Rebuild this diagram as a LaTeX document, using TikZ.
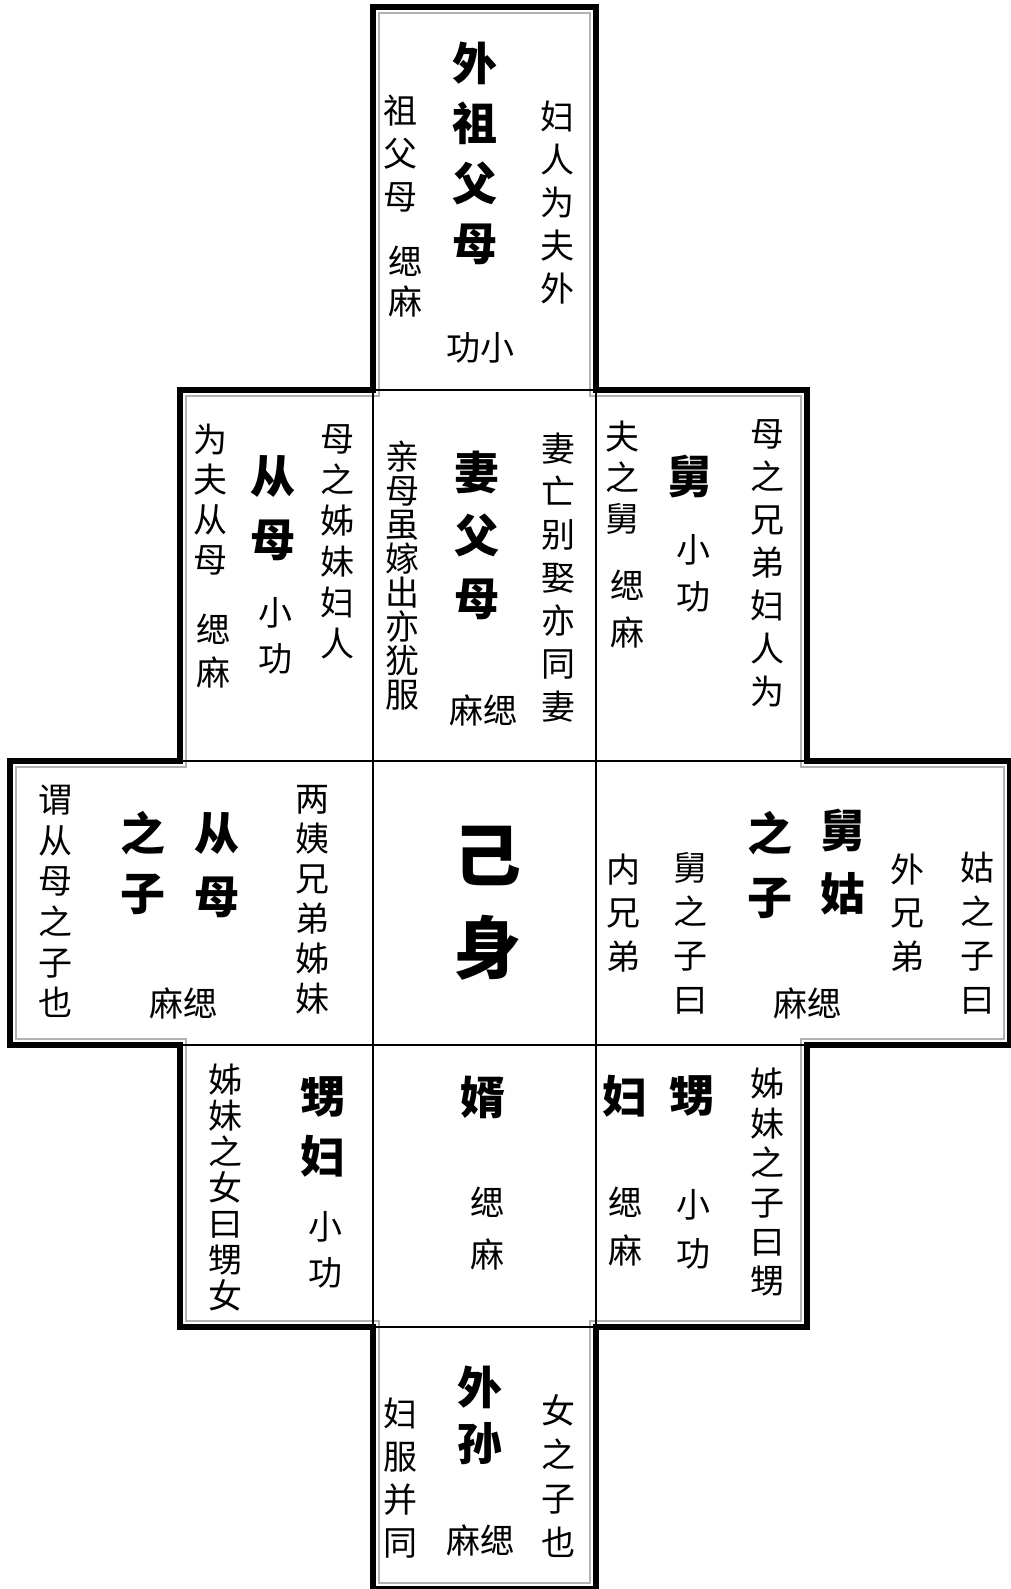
\documentclass[tikz,border=0pt]{standalone}
\usepackage{fontspec}
\setmainfont{Noto Sans CJK SC}
\tikzset{
  outer frame/.style={line width=6pt, line join=miter},
  inner frame/.style={line width=1.5pt, gray!60, line join=miter},
  divider/.style={line width=2.5pt},
  txt/.style={inner sep=0pt, align=center, font=\fontsize{34}{#1}\selectfont},
  txt/.default=43,
  big/.style={inner sep=0pt, align=center, font=\fontsize{45}{#1}\selectfont\bfseries},
  big/.default=60,
}
\begin{document}
\begin{tikzpicture}[x=1pt, y=-1pt]
\fill[white] (0,0) rectangle (1011,1589);
\useasboundingbox (0,0) rectangle (1011,1589);
\draw[outer frame] (373,7) -- (596,7) -- (596,390) -- (807,390) -- (807,761) -- (1010,761) -- (1010,1045) -- (807,1045) -- (807,1327) -- (596,1327) -- (596,1589) -- (373,1589) -- (373,1327) -- (180,1327) -- (180,1045) -- (10,1045) -- (10,761) -- (180,761) -- (180,390) -- (373,390) -- cycle;
\draw[inner frame] (379,13) -- (590,13) -- (590,396) -- (801,396) -- (801,767) -- (1004,767) -- (1004,1039) -- (801,1039) -- (801,1321) -- (590,1321) -- (590,1583) -- (379,1583) -- (379,1321) -- (186,1321) -- (186,1039) -- (16,1039) -- (16,767) -- (186,767) -- (186,396) -- (379,396) -- cycle;
\draw[divider] (373,390) -- (596,390);
\draw[divider] (373,390) -- (373,1327);
\draw[divider] (596,390) -- (596,1327);
\draw[divider] (180,761) -- (807,761);
\draw[divider] (180,1045) -- (807,1045);
\draw[divider] (373,1327) -- (596,1327);

\node[big] (waizufumu) at (475,153) {外\\祖\\父\\母};
\node[txt] (zufumu) at (400,153.5) {祖\\父\\母};
\node[txt=40] (top-sima) at (405,282) {缌\\麻};
\node[txt] (furen) at (557,203) {妇\\人\\为\\夫\\外};
\node[txt] (top-gong) at (480,348) {功小};

\node[txt=41] (muzhi-zimei) at (337,542) {母\\之\\姊\\妹\\妇\\人};
\node[big=63] (congmu) at (273,508) {从\\母};
\node[txt=46] (congmu-xg) at (275,636) {小\\功};
\node[txt=40] (weifu) at (210,500) {为\\夫\\从\\母};
\node[txt] (congmu-sm) at (213,651) {缌\\麻};

\node[txt=34] (qinmu) at (402,576) {亲\\母\\虽\\嫁\\出\\亦\\犹\\服};
\node[big=63] (qifumu) at (477,535) {妻\\父\\母};
\node[txt] (qifumu-ms) at (483,710) {麻缌};
\node[txt] (qiwang) at (558,578) {妻\\亡\\别\\娶\\亦\\同\\妻};

\node[txt=41] (fuzhijiu) at (622,478) {夫\\之\\舅};
\node[txt=47] (jiu-sm) at (627,609) {缌\\麻};
\node[big] (jiu) at (690,477) {舅};
\node[txt=47] (jiu-xg) at (693,573) {小\\功};
\node[txt] (muzhi-xiongdi) at (767,563) {母\\之\\兄\\弟\\妇\\人\\为};

\node[txt=40.6] (wei-congmu) at (55,901.5) {谓\\从\\母\\之\\子\\也};
\node[big] (zhizi-l) at (143,863) {之\\子};
\node[big=63] (congmu-l) at (217,865) {从\\母};
\node[txt] (left-ms) at (183,1003) {麻缌};
\node[txt=40] (liangyi) at (312,900) {两\\姨\\兄\\弟\\姊\\妹};

\node[inner sep=0pt, align=center, font=\fontsize{68}{93}\selectfont\bfseries] (jishen) at (487,903) {己\\身};

\node[txt=43.5] (neixiongdi) at (623,913) {内\\兄\\弟};
\node[txt=44] (jiuzhizi) at (690,933) {舅\\之\\子\\曰};
\node[big=64] (zhizi-r) at (770,865) {之\\子};
\node[big=63] (jiugu) at (843,862) {舅\\姑};
\node[txt] (right-ms) at (807,1003) {麻缌};
\node[txt=43.5] (waixiongdi) at (907,913) {外\\兄\\弟};
\node[txt=44] (guzhizi) at (977,933) {姑\\之\\子\\曰};

\node[txt=36] (zimei-nv) at (225,1188) {姊\\妹\\之\\女\\曰\\甥\\女};
\node[big] (shengfu) at (323,1127) {甥\\妇};
\node[txt=46] (shengfu-xg) at (325,1250) {小\\功};

\node[big] (xu) at (483,1097) {婿};
\node[txt=52] (xu-sm) at (487,1229) {缌\\麻};

\node[big] (fu) at (625,1096) {妇};
\node[big] (sheng) at (692,1096) {甥};
\node[txt=48] (sheng-sm) at (625,1227) {缌\\麻};
\node[txt=49] (sheng-xg) at (693,1229) {小\\功};
\node[txt=39.4] (zimei-zi) at (767,1182.5) {姊\\妹\\之\\子\\曰\\甥};

\node[txt] (fufu) at (400,1478) {妇\\服\\并\\同};
\node[big=56] (waisun) at (480,1415) {外\\孙};
\node[txt] (waisun-ms) at (480,1540) {麻缌};
\node[txt=44] (nvzhizi) at (558,1476.5) {女\\之\\子\\也};
\end{tikzpicture}
\end{document}
